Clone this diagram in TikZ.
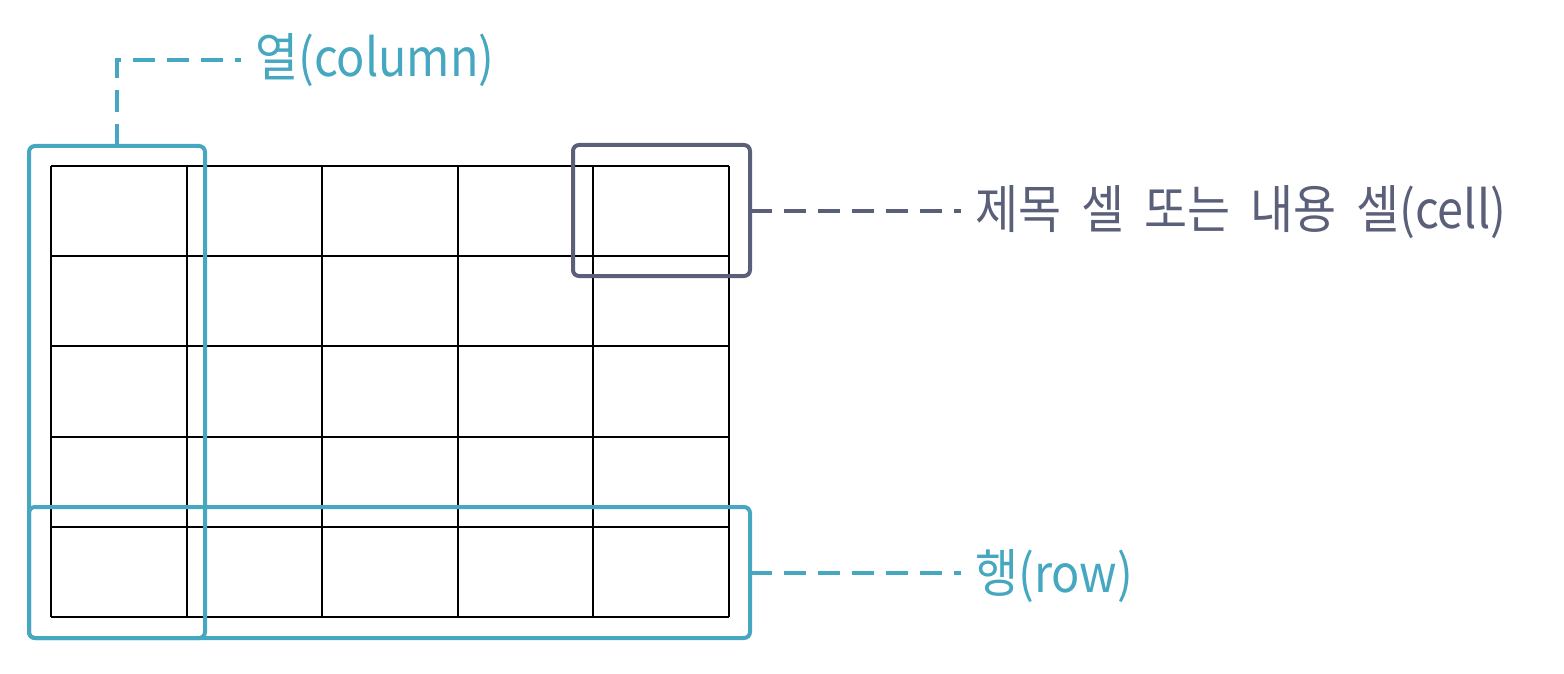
\documentclass[tikz,border=0pt]{standalone}
\usepackage{fontspec}
\newfontfamily\kr[FakeStretch=0.9, WordSpace=1.9]{Noto Sans CJK KR}
\usepackage{tikz}
\definecolor{markblue}{HTML}{45A7C0}
\definecolor{markgray}{HTML}{5A6079}

\begin{document}
\begin{tikzpicture}[x=1pt, y=-1pt,
	hilite/.style={draw, line width=4pt, rounded corners=6pt, inner sep=0pt, outer sep=0pt},
	lead/.style={line width=4pt, dash pattern=on 22pt off 12pt},
	tag/.style={anchor=west, inner xsep=14pt, inner ysep=0pt, font=\kr\fontsize{52}{60}\selectfont}]
	\useasboundingbox (0,0) rectangle (1564,674);
	% table grid
	\foreach \gx in {51,186.6,322.2,457.8,593.4,729}
		\draw[line width=2pt] (\gx,166) -- (\gx,617);
	\foreach \gy in {166,256.2,346.4,436.6,526.8,617}
		\draw[line width=2pt] (51,\gy) -- (729,\gy);
	% highlight boxes
	\node[hilite, draw=markblue, minimum width=176, minimum height=492] (colbox) at (117,392) {};
	\node[hilite, draw=markblue, minimum width=721, minimum height=131] (rowbox) at (389.5,572.5) {};
	\node[hilite, draw=markgray, minimum width=177, minimum height=131] (cellbox) at (661.5,210.5) {};
	% labels
	\node[tag, text=markblue] (collabel) at (241,60) {열(column)};
	\node[tag, text=markgray] (celllabel) at (961,212) {제목 셀 또는 내용 셀(cell)};
	\node[tag, text=markblue] (rowlabel) at (961,576) {행(row)};
	\draw[lead, markblue] (colbox.north) |- (collabel.west);
	\draw[lead, markgray] (cellbox.east) -- (cellbox.east -| celllabel.west);
	\draw[lead, markblue] (rowbox.east) -- (rowbox.east -| rowlabel.west);
\end{tikzpicture}
\end{document}
